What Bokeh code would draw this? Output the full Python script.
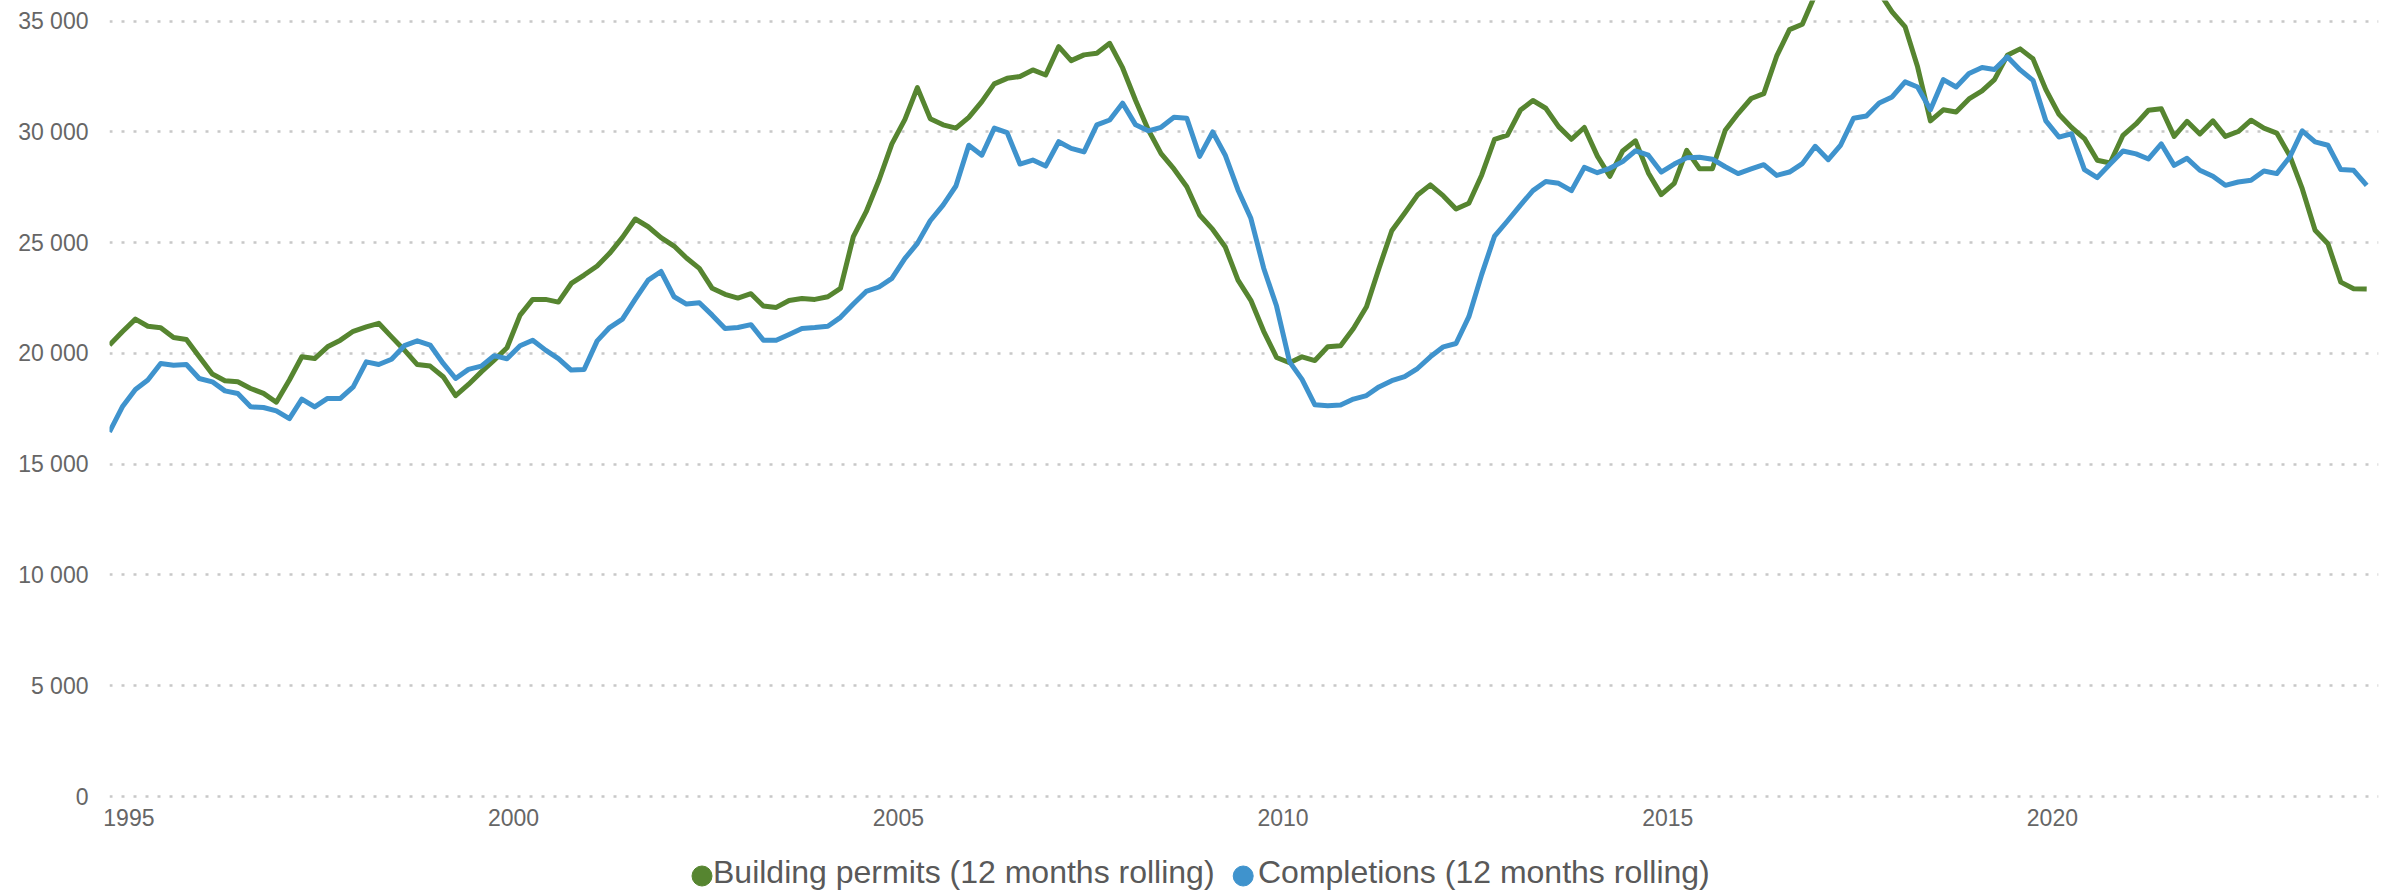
import pandas as pd
from datetime import datetime
from bokeh.plotting import figure
from bokeh.layouts import column
from bokeh.core.properties import value
from bokeh.models import (FixedTicker, DatetimeTickFormatter, Range1d, ColumnDataSource)
from bokeh.embed import file_html
from bokeh.resources import INLINE

# ---------------- data (values in thousands) ----------------
first_period = "1994-10-01"   # bimonthly readings
permits_k = [
    20.38, 20.98, 21.55, 21.23, 21.16, 20.72, 20.63, 19.85, 19.07, 18.77,
    18.72, 18.42, 18.20, 17.80, 18.80, 19.85, 19.77, 20.30, 20.60, 21.00,
    21.20, 21.36, 20.75, 20.15, 19.50, 19.43, 18.95, 18.10, 18.60, 19.17,
    19.70, 20.26, 21.73, 22.44, 22.44, 22.32, 23.16, 23.54, 23.95, 24.52,
    25.24, 26.07, 25.72, 25.23, 24.85, 24.31, 23.84, 22.94, 22.67, 22.50,
    22.70, 22.14, 22.08, 22.39, 22.48, 22.44, 22.56, 22.94, 25.27, 26.40,
    27.83, 29.46, 30.57, 32.00, 30.60, 30.32, 30.17, 30.66, 31.37, 32.17,
    32.42, 32.50, 32.80, 32.57, 33.85, 33.22, 33.48, 33.55, 34.00, 32.90,
    31.42, 30.10, 29.02, 28.33, 27.53, 26.25, 25.60, 24.82, 23.31, 22.40,
    21.00, 19.82, 19.58, 19.85, 19.68, 20.30, 20.35, 21.13, 22.11, 23.84,
    25.54, 26.33, 27.15, 27.61, 27.11, 26.52, 26.78, 28.06, 29.67, 29.86,
    30.99, 31.42, 31.07, 30.24, 29.67, 30.20, 28.91, 28.00, 29.14, 29.60,
    28.15, 27.17, 27.68, 29.17, 28.34, 28.34, 30.08, 30.83, 31.51, 31.73,
    33.42, 34.62, 34.86, 36.20, 37.00, 37.50, 37.60, 37.30, 36.30, 35.42,
    34.74, 32.94, 30.50, 31.00, 30.90, 31.49, 31.85, 32.36, 33.46, 33.75,
    33.30, 31.91, 30.80, 30.20, 29.70, 28.72, 28.60, 29.85, 30.36, 30.98,
    31.05, 29.80, 30.48, 29.91, 30.50, 29.80, 30.02, 30.53, 30.17, 29.95,
    28.92, 27.44, 25.56, 24.95, 23.22, 22.92, 22.91,
]
completions_k = [
    16.46, 17.59, 18.37, 18.80, 19.55, 19.47, 19.50, 18.87, 18.72, 18.31,
    18.19, 17.59, 17.56, 17.41, 17.06, 17.94, 17.59, 17.97, 17.97, 18.49,
    19.62, 19.50, 19.74, 20.35, 20.57, 20.38, 19.55, 18.87, 19.28, 19.43,
    19.90, 19.76, 20.35, 20.60, 20.15, 19.77, 19.25, 19.28, 20.57, 21.17,
    21.55, 22.45, 23.31, 23.70, 22.56, 22.23, 22.29, 21.73, 21.13, 21.17,
    21.30, 20.60, 20.60, 20.86, 21.13, 21.17, 21.23, 21.63, 22.23, 22.80,
    23.00, 23.39, 24.29, 24.97, 25.99, 26.70, 27.56, 29.40, 28.95, 30.17,
    29.97, 28.55, 28.73, 28.46, 29.56, 29.26, 29.10, 30.32, 30.54, 31.30,
    30.32, 30.05, 30.21, 30.66, 30.62, 28.90, 30.00, 28.96, 27.38, 26.10,
    23.85, 22.14, 19.62, 18.83, 17.68, 17.64, 17.67, 17.94, 18.10, 18.49,
    18.77, 18.95, 19.32, 19.85, 20.30, 20.45, 21.66, 23.57, 25.30, 25.98,
    26.70, 27.35, 27.76, 27.68, 27.35, 28.40, 28.16, 28.36, 28.66, 29.15,
    28.95, 28.19, 28.55, 28.83, 28.86, 28.77, 28.43, 28.12, 28.33, 28.52,
    28.04, 28.19, 28.57, 29.35, 28.75, 29.41, 30.62, 30.72, 31.31, 31.58,
    32.26, 32.03, 31.00, 32.36, 32.03, 32.64, 32.91, 32.82, 33.39, 32.80,
    32.33, 30.50, 29.77, 29.92, 28.30, 27.94, 28.55, 29.14, 29.01, 28.78,
    29.46, 28.49, 28.81, 28.27, 28.00, 27.59, 27.74, 27.82, 28.24, 28.12,
    28.87, 30.05, 29.55, 29.40, 28.30, 28.27, 27.59,
]
series_names = ["Building permits (12 months rolling)", "Completions (12 months rolling)"]
year_ticks = [1995, 2000, 2005, 2010, 2015, 2020]
y_ticks = [0, 5000, 10000, 15000, 20000, 25000, 30000, 35000]
y_tick_labels = ["0", "5 000", "10 000", "15 000", "20 000", "25 000", "30 000", "35 000"]

# ---------------- styles ----------------
GREEN = "#568530"
BLUE = "#3f93cd"
TICK_COLOR = "#666666"
LEGEND_COLOR = "#595959"
FONT = "Liberation Sans"
W = 2389
LEFT, RIGHT = 109, 11

dates = pd.date_range(first_period, periods=len(permits_k), freq="2MS")
src = ColumnDataSource(dict(
    date=dates,
    permits=[v * 1000 for v in permits_k],
    completions=[v * 1000 for v in completions_k],
))

p = figure(
    width=W, height=836,
    x_axis_type="datetime",
    x_range=Range1d(datetime(1994, 10, 1), datetime(2024, 3, 28)),
    y_range=Range1d(-316, 35934),
    output_backend="svg", toolbar_location=None,
    min_border_left=LEFT, min_border_right=RIGHT, min_border_top=0, min_border_bottom=33,
)
p.outline_line_color = None
p.background_fill_color = "white"
p.border_fill_color = "white"

p.line("date", "permits", source=src, line_color=GREEN, line_width=5, line_join="round")
p.line("date", "completions", source=src, line_color=BLUE, line_width=5, line_join="round")

# axes
p.yaxis.ticker = FixedTicker(ticks=y_ticks)
p.yaxis.major_label_overrides = {t: lab for t, lab in zip(y_ticks, y_tick_labels)}
p.xaxis.ticker = FixedTicker(ticks=[datetime(y, 1, 1).timestamp() * 1000 for y in year_ticks])
p.xaxis.formatter = DatetimeTickFormatter(years="%Y", months="%Y", days="%Y", hours="%Y",
                                          minutes="%Y", seconds="%Y", milliseconds="%Y")
for ax in (p.xaxis, p.yaxis):
    ax.axis_line_color = None
    ax.major_tick_line_color = None
    ax.minor_tick_line_color = None
    ax.major_tick_out = 0
    ax.major_tick_in = 0
    ax.minor_tick_out = 0
    ax.major_label_text_font = FONT
    ax.major_label_text_font_size = "23px"
    ax.major_label_text_color = TICK_COLOR
p.yaxis.major_label_standoff = 21
p.xaxis.major_label_standoff = 5

p.xgrid.grid_line_color = None
p.ygrid.ticker = FixedTicker(ticks=y_ticks)
p.ygrid.grid_line_color = "#c8c8c8"
p.ygrid.grid_line_width = 2.5
p.ygrid.grid_line_dash = "3 9"

# ---------------- legend strip below the chart (pixel coordinates) ----------------
LH = 56
lg = figure(width=W, height=LH, output_backend="svg", toolbar_location=None,
            x_axis_location=None, y_axis_location=None,
            min_border_left=LEFT, min_border_right=RIGHT, min_border_top=0, min_border_bottom=0,
            x_range=Range1d(LEFT, W - RIGHT), y_range=Range1d(0, LH))
lg.outline_line_color = None
lg.grid.grid_line_color = None
lg.background_fill_color = "white"
lg.border_fill_color = "white"

legend_src = ColumnDataSource(dict(
    mx=[701.5, 1242.7], tx=[712.5, 1257.5],
    my=[16.5, 16.5], ty=[20.5, 20.5],
    color=[GREEN, BLUE], label=series_names,
))
lg.scatter("mx", "my", source=legend_src, marker="circle", size=20,
           fill_color="color", line_color="color")
lg.text("tx", "ty", text="label", source=legend_src, text_font=value(FONT),
        text_font_size="32px", text_color=LEGEND_COLOR,
        text_baseline="alphabetic", text_align="left")

layout = column(p, lg, spacing=0)
open("out.html", "w").write(file_html(layout, INLINE))
